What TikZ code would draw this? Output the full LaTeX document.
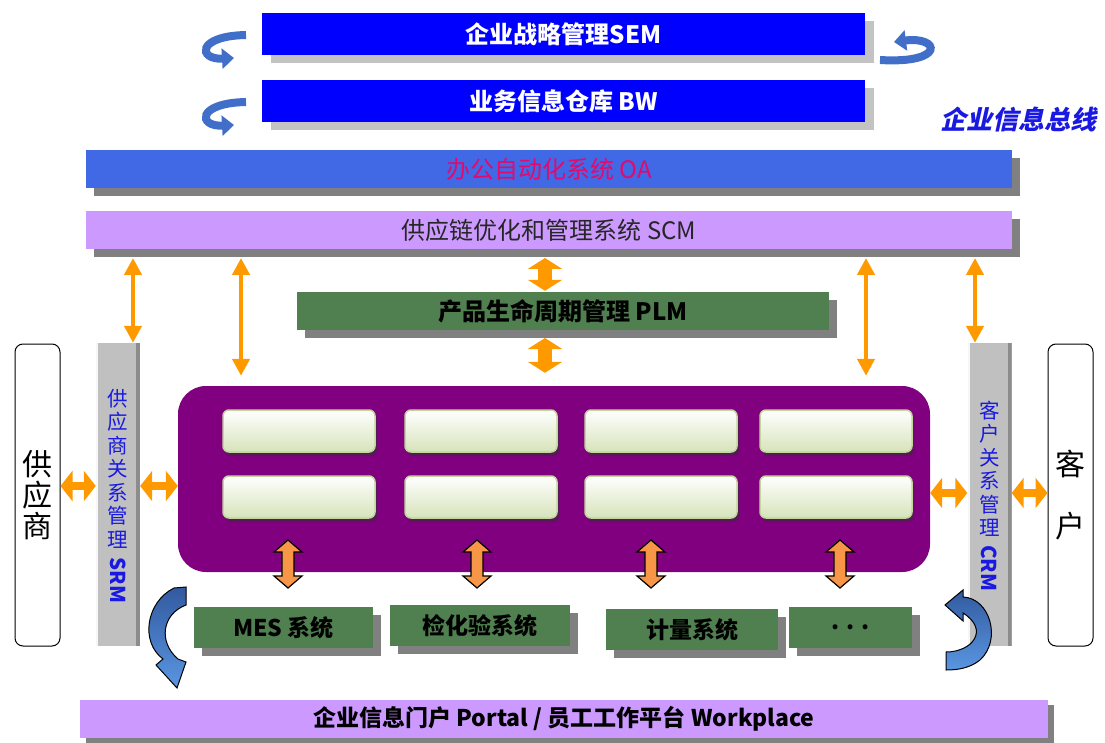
\documentclass[tikz,border=0pt]{standalone}
\usepackage{fontspec}
\setmainfont{Noto Sans CJK SC}
\newfontfamily\slantcjk[FakeSlant=0.22]{Noto Sans CJK SC}
\usetikzlibrary{arrows.meta,shadows,calc}
\definecolor{semblue}{RGB}{0,0,255}
\definecolor{oablue}{RGB}{65,105,230}
\definecolor{oatext}{RGB}{225,10,110}
\definecolor{lilac}{RGB}{204,153,255}
\definecolor{plmgreen}{RGB}{80,128,80}
\definecolor{corepurple}{RGB}{128,0,128}
\definecolor{bargray}{RGB}{192,192,192}
\definecolor{bardark}{RGB}{140,140,140}
\definecolor{shgray}{RGB}{128,128,128}
\definecolor{lightsh}{RGB}{195,195,195}
\definecolor{oarr}{RGB}{255,153,0}
\definecolor{barr}{RGB}{247,150,70}
\definecolor{cblue}{RGB}{65,110,200}
\definecolor{cbluedark}{RGB}{50,90,160}
\definecolor{cbluelight}{RGB}{90,150,225}
\definecolor{txtblue}{RGB}{25,25,225}
\definecolor{gboxbot}{RGB}{214,227,186}
\definecolor{gboxline}{RGB}{195,214,155}
\definecolor{gboxsh}{RGB}{85,25,85}
\begin{document}
\begin{tikzpicture}[x=1pt,y=-1pt,
  bar/.style={rectangle, inner sep=0, minimum height=38, font=\fontsize{24}{28}\selectfont},
  shd/.style={drop shadow={shadow xshift=8pt, shadow yshift=-8pt, fill=shgray, opacity=1}},
  lshd/.style={drop shadow={shadow xshift=9pt, shadow yshift=-8pt, fill=lightsh, opacity=1}},
  sidebox/.style={draw=black, line width=1, rounded corners=8, fill=white, minimum width=45, minimum height=302, inner sep=0, align=center},
  sidebar/.style={rectangle, fill=bargray, minimum width=44, minimum height=303, inner sep=0,
    path picture={\fill[bardark] (path picture bounding box.north east) rectangle ([xshift=-4pt]path picture bounding box.south east);
                  \fill[white!85!bargray] (path picture bounding box.north west) rectangle ([xshift=2pt]path picture bounding box.south west);}},
  vtext/.style={align=center, text=txtblue, font=\fontsize{20.5}{23.5}\selectfont, inner sep=0},
  gbox/.style={rounded corners=6, draw=gboxline, line width=1.5, top color=white, bottom color=gboxbot, minimum width=152, minimum height=42, inner sep=0,
    drop shadow={shadow xshift=2pt, shadow yshift=-4pt, fill=gboxsh, opacity=1}},
  sysbox/.style={rectangle, fill=plmgreen, minimum height=41, inner sep=0, font=\fontsize{23}{26}\selectfont\bfseries, shd},
  oarrow/.style={draw=oarr, line width=4.5, {Triangle[width=17pt,length=17pt]}-{Triangle[width=17pt,length=17pt]}},
  tarrow/.style={draw=oarr, line width=14, {Triangle[width=34pt,length=11pt]}-{Triangle[width=34pt,length=11pt]}},
  harrow/.style={draw=oarr, line width=8, {Triangle[width=30pt,length=12pt]}-{Triangle[width=30pt,length=12pt]}},
  carrow/.style={draw=cblue, line width=8, -{Triangle[width=20pt,length=12pt]}},
  bigcurl/.style={draw=black, line width=1, top color=cbluedark, bottom color=cbluelight},
  pics/blockarrow/.style={code={
    \filldraw[draw=black, line width=1.2, fill=barr]
      (0,-24) -- (14,-12) -- (6,-12) -- (6,12) -- (14,12) -- (0,24) -- (-14,12) -- (-6,12) -- (-6,-12) -- (-14,-12) -- cycle;}}
]
\useasboundingbox (0,0) rectangle (1105,743);

% top layers
\node[bar, fill=semblue, minimum width=603, minimum height=42, text=white, font=\fontsize{24}{28}\selectfont\bfseries, lshd] (sem) at (563.5,34) {企业战略管理SEM};
\node[bar, fill=semblue, minimum width=603, minimum height=42, text=white, font=\fontsize{24}{28}\selectfont\bfseries, lshd] (bw) at (563.5,101) {业务信息仓库 BW};
\node[text=txtblue, font=\fontsize{26}{30}\selectfont\slantcjk\bfseries, inner sep=0] (bus) at (1018,120) {企业信息总线};
\node[bar, fill=oablue, minimum width=926, text=oatext, shd] (oa) at (549,169) {办公自动化系统 OA};
\node[bar, fill=lilac, minimum width=926, text=black!85, shd] (scm) at (549,230) {供应链优化和管理系统 SCM};
\node[bar, fill=plmgreen, minimum width=532, text=black, font=\fontsize{24}{28}\selectfont\bfseries, shd] (plm) at (563,311) {产品生命周期管理 PLM};

% side columns
\node[sidebox, font=\fontsize{30}{31}\selectfont] (sup) at (37.5,495) {供\\应\\商};
\node[sidebox, font=\fontsize{30}{31}\selectfont] (cus) at (1070.5,495) {客\\[31pt]户};
\node[sidebar] (srm) at (118,494.5) {};
\node[sidebar] (crm) at (989.5,494.5) {};
\node[vtext] (srmt) at (118,496) {供\\应\\商\\关\\系\\管\\理\\[-13pt]\rotatebox{-90}{\bfseries SRM}};
\node[vtext] (crmt) at (989.5,496) {客\\户\\关\\系\\管\\理\\[-14pt]\rotatebox{-90}{\bfseries CRM}};

% core
\node[fill=corepurple, rounded corners=28, minimum width=752, minimum height=186, inner sep=0] (core) at (554,479) {};
\foreach \i/\x in {1/299,2/481,3/661,4/836}{
  \node[gbox] (ga\i) at (\x,431) {};
  \node[gbox] (gb\i) at (\x,497) {};
}

% bottom systems
\node[sysbox, minimum width=179] (mes) at (283.5,627.5) {MES 系统};
\node[sysbox, minimum width=180] (jhy) at (480,625.5) {检化验系统};
\node[sysbox, minimum width=172] (jl) at (692,629.5) {计量系统};
\node[sysbox, minimum width=123] (etc) at (850.5,627.5) {. . .};

\node[bar, fill=lilac, minimum width=968, text=black, font=\fontsize{23}{28}\selectfont\bfseries,
  drop shadow={shadow xshift=6pt, shadow yshift=-5pt, fill=shgray, opacity=1}] (portal) at (564,719) {企业信息门户 Portal / 员工工作平台 Workplace};

% orange connectors
\coordinate (t1) at (133,258);
\coordinate (t2) at (241,258);
\coordinate (t3) at (866,258);
\coordinate (t4) at (975,258);
\coordinate (t5) at (545,258);
\coordinate (t6) at (545,338);
\draw[oarrow] (t1) -- (t1 |- srm.north);
\draw[oarrow] (t2) -- ($(t2 |- core.north)+(0,-10)$);
\draw[oarrow] (t3) -- ($(t3 |- core.north)+(0,-10)$);
\draw[oarrow] (t4) -- (t4 |- crm.north);
\draw[tarrow] (t5) -- ($(t5 |- plm.north)+(0,-1)$);
\draw[tarrow] (t6) -- ($(t6 |- core.north)+(0,-13)$);

\coordinate (h1) at (0,486);
\coordinate (h2) at (0,493);
\draw[harrow] (h1 -| sup.east) -- (h1 -| srm.west);
\draw[harrow] (h1 -| srm.east) -- (h1 -| core.west);
\draw[harrow] (h2 -| core.east) -- (h2 -| crm.west);
\draw[harrow] (h2 -| crm.east) -- (h2 -| cus.west);

\pic at (288,564) {blockarrow};
\pic at (477,564) {blockarrow};
\pic at (651,564) {blockarrow};
\pic at (840,564) {blockarrow};

% curved arrows
\draw[carrow] (246,35) .. controls (196,36) and (198,60) .. (234,58);
\draw[carrow] (246,102) .. controls (196,103) and (198,127) .. (234,125);
\draw[carrow] (880,60) .. controls (946,64) and (940,36) .. (894,42);

\path[bigcurl] (174,588) .. controls (146,602) and (140,642) .. (163,659)
  -- (156,665) -- (177,688) -- (186,662) -- (178,659)
  .. controls (158,642) and (162,614) .. (186,605) -- (186,587) -- cycle;
\path[bigcurl] (945,605) -- (963,590) -- (963,597)
  .. controls (990,598) and (1002,640) .. (980,660)
  .. controls (970,668) and (958,670) .. (946,670) -- (946,652)
  .. controls (972,652) and (990,630) .. (963,613) -- (963,621) -- cycle;
\end{tikzpicture}
\end{document}
